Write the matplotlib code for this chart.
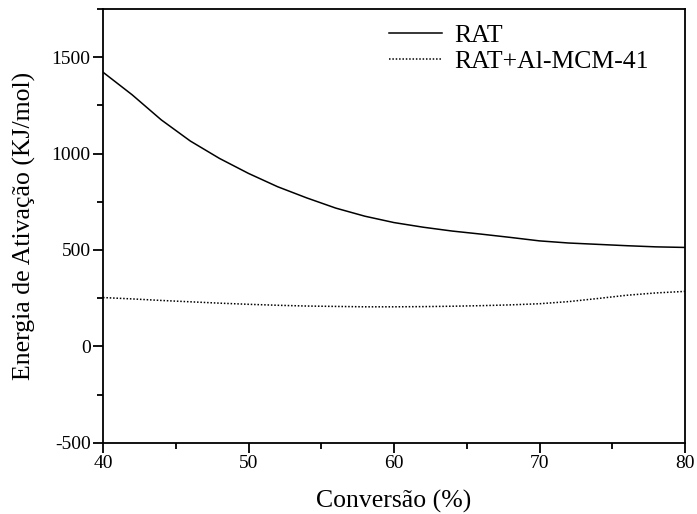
import matplotlib
matplotlib.use("Agg")
import matplotlib.pyplot as plt
from matplotlib.ticker import MultipleLocator

plt.rcParams['font.family'] = ['Liberation Serif', 'DejaVu Serif']
plt.rcParams['axes.unicode_minus'] = False

# Conversion (%) and activation energy (kJ/mol)
conversao = [40, 42, 44, 46, 48, 50, 52, 54, 56, 58, 60,
             62, 64, 66, 68, 70, 72, 74, 76, 78, 80]
ea_rat = [1422, 1305, 1175, 1065, 975, 897, 828, 770, 717, 675, 642,
          618, 598, 582, 565, 547, 536, 529, 522, 516, 513]
ea_rat_almcm = [253, 246, 238, 231, 224, 218, 213, 209, 207, 205, 205,
                206, 208, 211, 215, 221, 232, 248, 265, 277, 285]

fig = plt.figure(figsize=(6.97, 5.14), dpi=100)
ax = fig.add_axes([0.1478, 0.1387, 0.835, 0.8438])

ax.plot(conversao, ea_rat, color='black', lw=1.1, ls='-', label='RAT')
ax.plot(conversao, ea_rat_almcm, color='black', lw=1.1, ls=(0, (1, 1.2)),
        label='RAT+Al-MCM-41')

ax.set_xlim(40, 80)
ax.set_ylim(-500, 1750)
ax.xaxis.set_major_locator(MultipleLocator(10))
ax.xaxis.set_minor_locator(MultipleLocator(5))
ax.yaxis.set_major_locator(MultipleLocator(500))
ax.yaxis.set_minor_locator(MultipleLocator(250))

for s in ax.spines.values():
    s.set_linewidth(1.3)
ax.tick_params(which='major', direction='out', length=7, width=1.3,
               labelsize=14, pad=2)
ax.tick_params(which='minor', direction='out', length=4.5, width=1.3)

ax.set_xlabel('Conversão (%)', fontsize=18.5, labelpad=13)
ax.set_ylabel('Energia de Ativação (KJ/mol)', fontsize=18.5, labelpad=11)

leg = ax.legend(loc='upper right', frameon=False, fontsize=18.5,
                handlelength=2.1, handletextpad=0.45, labelspacing=0.15,
                borderaxespad=0.0, bbox_to_anchor=(0.955, 0.99))

fig.savefig('out.png', dpi=100)
